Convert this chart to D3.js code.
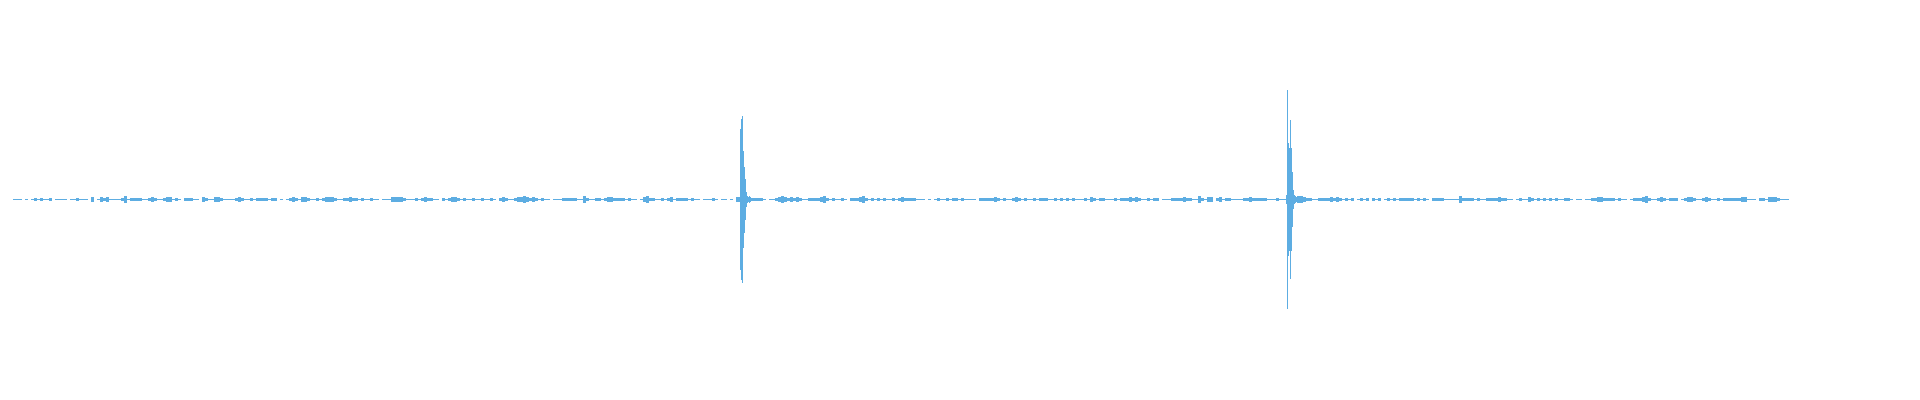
<!DOCTYPE html>
<html><head><meta charset="utf-8">
<script src="https://cdn.jsdelivr.net/npm/d3@7"></script>
<style>html,body{margin:0;padding:0;background:#fff;} svg{display:block;}</style>
</head><body>
<svg id="chart" width="1920" height="400"></svg>
<script>
// Waveform envelope: peak amplitude per block of 3 samples (full scale = 1000)
const blockSize = 3;
const envelope = [
4,4,4,0,4,0,4,10,4,10, 4,4,10,0,4,4,4,4,0,4, 4,10,4,4,4,0,20,0,4,20, 10,20,4,4,4,4,18,30,4,10,
18,10,18,4,4,10,20,18,4,4, 10,27,20,4,10,4,0,18,18,10, 4,4,0,20,18,4,4,27,20,10, 4,4,4,4,10,20,18,4,4,10,
4,18,10,18,10,4,18,18,0,4, 0,4,10,27,10,4,20,27,10,4, 4,10,4,18,27,20,27,10,4,4, 18,10,20,10,10,4,10,4,4,10,
4,4,0,4,4,4,20,27,27,20, 10,4,4,4,10,4,10,20,18,10, 4,4,0,10,4,18,27,20,18,4, 10,4,4,10,4,4,10,4,4,10,
4,0,18,20,10,4,4,18,20,27, 30,20,18,27,10,4,10,4,4,0, 4,4,4,10,18,10,18,10,4,4, 30,10,4,4,10,10,4,10,27,20,
10,18,10,18,4,10,4,4,0,4, 27,30,18,10,4,4,10,4,18,20, 4,10,18,10,10,4,18,4,4,0, 4,4,4,18,4,0,4,4,0,4,
0,27,10,10,18,27,18,10,10,10, 4,0,4,4,10,27,30,20,18,27, 18,20,10,4,4,10,18,10,18,27, 30,18,4,10,4,4,10,4,0,10,
18,10,27,36,18,4,10,4,10,4, 10,4,4,10,4,18,20,18,10,18, 10,4,4,4,0,4,0,4,10,4, 4,10,4,10,18,4,10,4,4,4,
4,0,10,18,10,18,18,27,10,4, 10,4,4,18,20,10,4,10,4,4, 10,4,18,10,18,4,4,10,4,10, 4,10,4,10,4,4,4,10,4,20,
18,4,10,10,4,4,4,10,4,10, 18,10,20,18,20,10,4,4,10,4, 10,10,0,4,4,4,10,18,10,18, 27,18,10,4,4,30,18,4,27,20,
0,18,20,4,18,10,4,4,4,4, 10,18,27,10,18,10,18,10,4,4, 4,10,4,4,4,10,10,27,30,36, 27,18,10,4,4,18,10,18,10,20,
18,20,10,4,10,4,10,0,4,10, 4,10,0,10,4,10,0,4,18,4, 10,4,10,18,10,18,10,4,10,4, 10,4,0,10,18,10,18,4,4,4,
4,4,30,18,10,18,10,4,10,4, 4,18,10,18,10,20,18,10,4,4, 0,4,10,4,4,27,18,4,10,4, 10,4,10,4,10,4,4,10,18,4,
0,4,4,0,4,4,10,18,20,27, 18,10,18,10,4,10,4,4,0,4, 18,10,18,27,30,18,4,4,18,20, 10,4,10,18,10,0,4,18,27,20,
18,4,4,18,27,18,4,4,10,4, 10,18,10,18,10,18,20,27,4,4, 4,0,10,10,4,20,27,27,18,4, 4,4
];
// Two transients, one value per sample
const spike1Start = 726;
const spike1 = [27, 645, 730, 760, 440, 300, 190, 70, 36, 27, 36];
const spike2Start = 1273;
const spike2 = [45, 991, 510, 465, 727, 465, 250, 82, 45, 36, 27];

const W = 1920, H = 400;
const margin = {left: 13, right: 131, top: 89.5, bottom: 90.5};
const nSamples = envelope.length * blockSize;
const color = "#5DADE2";

const x = d3.scaleLinear().domain([0, nSamples]).range([margin.left, W - margin.right]);
const y = d3.scaleLinear().domain([-1000, 1000]).range([H - margin.bottom, margin.top]);

const svg = d3.select("#chart");
svg.append("rect").attr("width", W).attr("height", H).attr("fill", "#fff");

const blocks = envelope.map((a, i) => ({s: i * blockSize, w: blockSize, a}));
const s1 = spike1.map((a, i) => ({s: spike1Start + i, w: 1, a}));
const s2 = spike2.map((a, i) => ({s: spike2Start + i, w: 1, a}));
const data = blocks.concat(s1, s2).filter(d => d.a > 0);

svg.append("g")
  .attr("shape-rendering", "crispEdges")
  .selectAll("rect")
  .data(data)
  .join("rect")
  .attr("x", d => x(d.s))
  .attr("width", d => x(d.s + d.w) - x(d.s))
  .attr("y", d => Math.min(y(d.a), y(0) - 0.5))
  .attr("height", d => Math.max(1, y(-d.a) - y(d.a)))
  .attr("fill", color);
</script>
</body></html>
